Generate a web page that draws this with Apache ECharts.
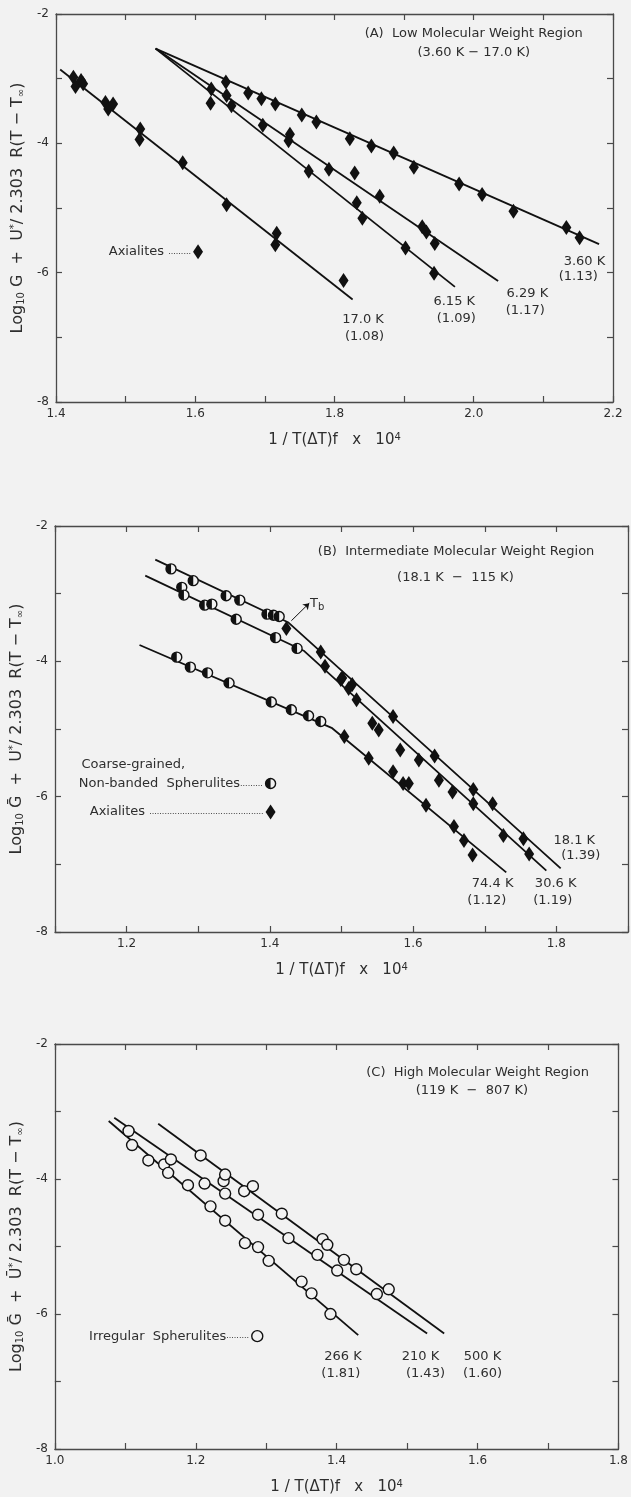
<!DOCTYPE html>
<html>
<head>
<meta charset="utf-8">
<script src="https://cdn.jsdelivr.net/npm/echarts@6/dist/echarts.min.js"></script>
<style>
html, body { margin: 0; padding: 0; background: #f2f2f2; }
#chart { width: 631px; height: 1497px; }
</style>
</head>
<body>
<div id="chart"></div>
<script>
// axis ranges (x is 1/T(dT)f x 10^4, y is log10 G + U*/2.303 R(T-Tinf))
var xRangeA = [1.4, 2.2];
var xRangeB = [1.1, 1.9];
var xRangeC = [1.0, 1.8];
var yRange = [-8, -2];

// ---- (A) low molecular weight ----
var a360Fit = [[1.543, -2.535], [2.180, -5.558]];
var a629Fit = [[1.543, -2.535], [2.035, -6.130]];
var a615Fit = [[1.543, -2.535], [1.973, -6.220]];
var a170Fit = [[1.406, -2.857], [1.826, -6.416]];

var a360Pts = [[1.644, -3.05], [1.676, -3.22], [1.695, -3.31], [1.715, -3.39], [1.753, -3.56],
    [1.774, -3.67], [1.822, -3.93], [1.853, -4.04], [1.885, -4.15], [1.914, -4.37],
    [1.979, -4.63], [2.012, -4.79], [2.057, -5.05], [2.133, -5.30], [2.152, -5.46]];
var a629Pts = [[1.623, -3.16], [1.645, -3.26], [1.736, -3.86], [1.792, -4.40], [1.829, -4.46],
    [1.865, -4.82], [1.926, -5.29], [1.932, -5.37], [1.944, -5.55]];
var a615Pts = [[1.622, -3.38], [1.652, -3.42], [1.697, -3.72], [1.734, -3.96], [1.763, -4.43],
    [1.832, -4.92], [1.840, -5.16], [1.902, -5.62], [1.943, -6.01]];
var a170Pts = [[1.425, -2.98], [1.428, -3.12], [1.436, -3.03], [1.439, -3.08], [1.471, -3.37],
    [1.475, -3.47], [1.482, -3.39], [1.521, -3.78], [1.520, -3.94], [1.582, -4.30],
    [1.645, -4.95], [1.717, -5.39], [1.715, -5.57], [1.813, -6.12]];

var aNotes = [
    [2.000, -2.31, '(A)  Low Molecular Weight Region'],
    [2.000, -2.60, '(3.60 K − 17.0 K)'],
    [2.159, -5.83, '3.60 K'], [2.150, -6.06, '(1.13)'],
    [2.077, -6.32, '6.29 K'], [2.074, -6.58, '(1.17)'],
    [1.972, -6.45, '6.15 K'], [1.975, -6.71, '(1.09)'],
    [1.841, -6.72, '17.0 K'], [1.843, -6.99, '(1.08)']
];
var aKeyAxialite = [[1.604, -5.675]];

// ---- (B) intermediate molecular weight ----
var b181Fit = [[1.240, -2.496], [1.426, -3.427], [1.806, -7.060]];
var b306Fit = [[1.226, -2.733], [1.448, -3.848], [1.786, -7.094]];
var b744Fit = [[1.218, -3.759], [1.487, -4.988], [1.730, -7.119]];

var b181Sph = [[1.262, -2.634], [1.293, -2.808], [1.339, -3.031], [1.358, -3.095],
    [1.396, -3.303], [1.405, -3.318], [1.413, -3.338]];
var b306Sph = [[1.277, -2.907], [1.280, -3.021], [1.309, -3.170], [1.319, -3.155],
    [1.353, -3.378], [1.408, -3.650], [1.438, -3.809]];
var b744Sph = [[1.270, -3.938], [1.289, -4.086], [1.313, -4.170], [1.343, -4.319],
    [1.402, -4.602], [1.430, -4.716], [1.454, -4.805], [1.471, -4.889]];

var b181Axi = [[1.423, -3.516], [1.471, -3.863], [1.501, -4.245], [1.515, -4.344],
    [1.572, -4.815], [1.630, -5.400], [1.684, -5.895], [1.711, -6.103], [1.754, -6.623]];
var b306Axi = [[1.477, -4.071], [1.499, -4.270], [1.510, -4.400], [1.521, -4.567],
    [1.543, -4.914], [1.552, -5.013], [1.582, -5.310], [1.608, -5.459], [1.636, -5.756],
    [1.655, -5.930], [1.684, -6.103], [1.726, -6.574], [1.762, -6.846]];
var b744Axi = [[1.504, -5.112], [1.538, -5.434], [1.572, -5.632], [1.586, -5.806],
    [1.594, -5.806], [1.618, -6.128], [1.657, -6.440], [1.671, -6.648], [1.683, -6.861]];

var bNotes = [
    [1.660, -2.38, '(B)  Intermediate Molecular Weight Region'],
    [1.659, -2.76, '(18.1 K  −  115 K)'],
    [1.825, -6.65, '18.1 K'], [1.834, -6.87, '(1.39)'],
    [1.799, -7.29, '30.6 K'], [1.795, -7.54, '(1.19)'],
    [1.711, -7.29, '74.4 K'], [1.703, -7.54, '(1.12)'],
    [1.466, -3.15, 'T{sub|b}']
];
var bNotesLeft = [[1.137, -5.53, 'Coarse-grained,']];
var bTbArrow = [[1.430, -3.40], [1.455, -3.14]];
var bKeySpherulite = [[1.401, -5.806]];
var bKeyAxialite = [[1.401, -6.227]];

// ---- (C) high molecular weight ----
var c266Fit = [[1.0764, -3.140], [1.4306, -6.313]];
var c210Fit = [[1.0843, -3.091], [1.5284, -6.289]];
var c500Fit = [[1.1467, -3.180], [1.5526, -6.289]];

var c266Pts = [[1.1096, -3.497], [1.1327, -3.725], [1.1551, -3.785], [1.1608, -3.909],
    [1.1889, -4.092], [1.2209, -4.405], [1.2417, -4.618], [1.2698, -4.950], [1.2884, -5.009],
    [1.3035, -5.213], [1.3502, -5.520], [1.3643, -5.694], [1.3912, -6.001]];
var c210Pts = [[1.1046, -3.289], [1.1647, -3.710], [1.2125, -4.067], [1.2395, -4.033],
    [1.2417, -4.216], [1.2884, -4.529], [1.3316, -4.876], [1.3727, -5.124], [1.4008, -5.356],
    [1.4570, -5.704]];
var c500Pts = [[1.2069, -3.651], [1.2417, -3.934], [1.2687, -4.181], [1.2811, -4.107],
    [1.3221, -4.514], [1.3800, -4.890], [1.3867, -4.975], [1.4103, -5.198], [1.4278, -5.337],
    [1.4739, -5.634]];

var cNotes = [
    [1.600, -2.42, '(C)  High Molecular Weight Region'],
    [1.592, -2.69, '(119 K  −  807 K)'],
    [1.409, -6.63, '266 K'], [1.406, -6.88, '(1.81)'],
    [1.519, -6.63, '210 K'], [1.526, -6.88, '(1.43)'],
    [1.607, -6.63, '500 K'], [1.607, -6.88, '(1.60)']
];
var cKeyIrregular = [[1.2873, -6.328]];

var yNames = [
    'Log{sub|10} G  +  U{sup|*}/ 2.303  R(T − T{sub|∞})',
    'Log{sub|10} Ḡ  +  U{sup|*}/ 2.303  R(T − T{sub|∞})',
    'Log{sub|10} Ḡ  +  Ū{sup|*}/ 2.303  R(T − T{sub|∞})'
];
var xName = '1 / T(ΔT)f   x   10{sup|4}';

var ink = '#111111';
var axisInk = '#4a4a4a';
var textInk = '#2e2e2e';
var bg = '#f2f2f2';
var font = 'DejaVu Sans';

var rich = {
    sub: { fontSize: 10, fontFamily: font, color: textInk, padding: [7, 0, 0, 0] },
    sup: { fontSize: 10, fontFamily: font, color: textInk, padding: [0, 0, 7, 0] },
    dot: { fontSize: 8, fontFamily: font, color: textInk }
};

var chart = echarts.init(document.getElementById('chart'), null, { renderer: 'canvas' });

var grids = [
    { left: 56, top: 14, width: 557, height: 388 },
    { left: 55, top: 526, width: 573, height: 406 },
    { left: 53, top: 1044, width: 573, height: 405 }
];
var xRanges = [xRangeA, xRangeB, xRangeC];

var xAxes = [];
var yAxes = [];
grids.forEach(function (g, i) {
    var common = {
        gridIndex: i,
        axisLine: { show: true, onZero: false, lineStyle: { color: axisInk, width: 1.3 } },
        axisTick: { show: true, inside: true, length: 6, lineStyle: { color: axisInk, width: 1.2 } },
        splitLine: { show: false }
    };
    xAxes.push(Object.assign({}, common, {
        type: 'value', position: 'bottom', min: xRanges[i][0], max: xRanges[i][1], interval: 0.1,
        name: xName, nameLocation: 'middle', nameGap: 30,
        nameTextStyle: { fontFamily: font, fontSize: 15, color: textInk, rich: rich },
        axisLabel: {
            margin: 6, fontFamily: font, fontSize: 12, color: textInk, showMinLabel: true, showMaxLabel: true,
            formatter: function (v) {
                return Math.round(v * 10) % 2 === 0 ? v.toFixed(1) : '';
            }
        }
    }));
    xAxes.push(Object.assign({}, common, {
        type: 'value', position: 'top', min: xRanges[i][0], max: xRanges[i][1], interval: 0.1,
        axisLabel: { show: false }
    }));
    yAxes.push(Object.assign({}, common, {
        type: 'value', position: 'left', min: yRange[0], max: yRange[1], interval: 1,
        name: yNames[i], nameLocation: 'middle', nameGap: 26,
        nameTextStyle: { fontFamily: font, fontSize: 16, color: textInk, rich: rich },
        axisLabel: {
            margin: 7, fontFamily: font, fontSize: 12, color: textInk,
            formatter: function (v) {
                return Math.round(v) % 2 === 0 ? '-' + Math.abs(v) : '';
            }
        }
    }));
    yAxes.push(Object.assign({}, common, {
        type: 'value', position: 'right', min: yRange[0], max: yRange[1], interval: 1,
        axisLabel: { show: false }
    }));
});

function fit(i, data, extra) {
    return Object.assign({
        type: 'line', xAxisIndex: 2 * i, yAxisIndex: 2 * i, data: data,
        symbol: 'none', silent: true, z: 2,
        lineStyle: { color: ink, width: 1.8 }
    }, extra || {});
}

function diamonds(i, data, label) {
    return {
        type: 'scatter', xAxisIndex: 2 * i, yAxisIndex: 2 * i, data: data, silent: true, z: 4,
        symbol: 'diamond', symbolSize: [10, 15],
        itemStyle: { color: ink, opacity: 1 },
        label: label || { show: false }
    };
}

function openCircles(i, data, label) {
    return {
        type: 'scatter', xAxisIndex: 2 * i, yAxisIndex: 2 * i, data: data, silent: true, z: 4,
        symbol: 'circle', symbolSize: 11,
        itemStyle: { color: bg, borderColor: ink, borderWidth: 1.4, opacity: 1 },
        label: label || { show: false }
    };
}

function halfCircles(i, data, label) {
    var base = openCircles(i, data, label);
    base.symbolSize = 10;
    return [base, {
        type: 'scatter', xAxisIndex: 2 * i, yAxisIndex: 2 * i, data: data, silent: true, z: 5,
        symbol: 'path://M10 0 A10 10 0 0 0 10 20 Z',
        symbolSize: [5, 10], symbolOffset: [-2.5, 0],
        itemStyle: { color: ink, opacity: 1 }
    }];
}

function notes(i, list, align) {
    return {
        type: 'scatter', xAxisIndex: 2 * i, yAxisIndex: 2 * i, silent: true, z: 6,
        symbolSize: 1, itemStyle: { color: 'rgba(0,0,0,0)', opacity: 1 },
        data: list.map(function (n) { return { value: [n[0], n[1]], name: n[2] }; }),
        label: {
            show: true, position: 'inside', align: align || 'center', verticalAlign: 'middle',
            formatter: function (p) { return p.name; },
            fontFamily: font, fontSize: 13, color: textInk, rich: rich
        }
    };
}

function keyLabel(text, dots) {
    return {
        show: true, position: 'left', distance: 2,
        formatter: text + '{dot|' + new Array(dots + 1).join('.') + '}',
        fontFamily: font, fontSize: 13, color: textInk, rich: rich
    };
}

var series = [
    fit(0, a360Fit), fit(0, a629Fit), fit(0, a615Fit), fit(0, a170Fit),
    diamonds(0, a360Pts), diamonds(0, a629Pts), diamonds(0, a615Pts), diamonds(0, a170Pts),
    diamonds(0, aKeyAxialite, keyLabel('Axialites ', 9)),
    notes(0, aNotes),

    fit(1, b181Fit, {
        markLine: {
            silent: true, symbol: ['none', 'arrow'], symbolSize: 6,
            lineStyle: { color: ink, width: 1, type: 'solid', curveness: -0.3 },
            label: { show: false },
            data: [[{ coord: bTbArrow[0] }, { coord: bTbArrow[1] }]]
        }
    }),
    fit(1, b306Fit), fit(1, b744Fit),
    diamonds(1, b181Axi), diamonds(1, b306Axi), diamonds(1, b744Axi),
    diamonds(1, bKeyAxialite, keyLabel('Axialites ', 45)),
    notes(1, bNotes),
    notes(1, bNotesLeft, 'left'),

    fit(2, c266Fit), fit(2, c210Fit), fit(2, c500Fit),
    openCircles(2, c266Pts), openCircles(2, c210Pts), openCircles(2, c500Pts),
    openCircles(2, cKeyIrregular, keyLabel('Irregular  Spherulites', 9)),
    notes(2, cNotes)
];
series = series
    .concat(halfCircles(1, b181Sph))
    .concat(halfCircles(1, b306Sph))
    .concat(halfCircles(1, b744Sph))
    .concat(halfCircles(1, bKeySpherulite, keyLabel('Non-banded  Spherulites', 9)));

var option = {
    backgroundColor: bg,
    animation: false,
    grid: grids,
    xAxis: xAxes,
    yAxis: yAxes,
    series: series
};

chart.setOption(option);
window.addEventListener('resize', chart.resize);
</script>
</body>
</html>
